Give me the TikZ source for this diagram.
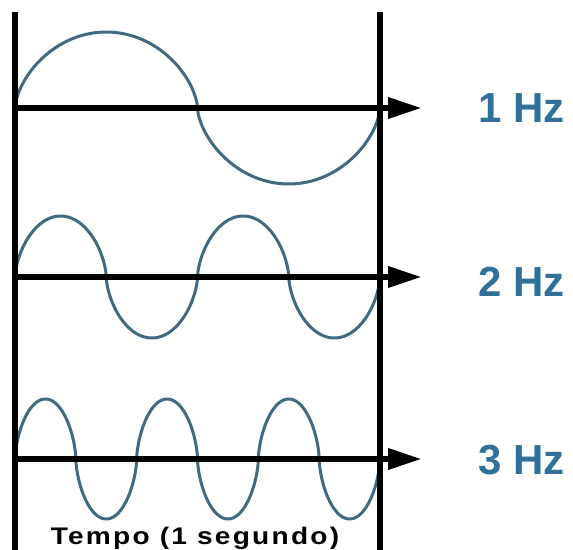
\documentclass[tikz,border=0pt]{standalone}
\usepackage{fontspec}
\usepackage{graphicx}
\setmainfont{Liberation Sans}
\newfontfamily\tempofont[LetterSpace=8]{Liberation Sans}
\usetikzlibrary{arrows.meta}
\definecolor{wavecol}{HTML}{416A80}
\definecolor{lblcol}{HTML}{31709A}
\begin{document}
\begin{tikzpicture}[x=1pt,y=-1pt,
  wavestyle/.style={draw=wavecol,line width=3pt,line cap=round},
  axisline/.style={line width=6.5pt,-{Triangle[length=34pt,width=20pt]}},
  vline/.style={line width=6pt},
  hzlabel/.style={text=lblcol,font=\fontsize{42}{42}\selectfont\bfseries,anchor=west,inner sep=0pt},
  timelabel/.style={font=\tempofont\fontsize{24}{24}\selectfont\bfseries,anchor=base,inner sep=0pt}]
\useasboundingbox (0,0) rectangle (573,549);
\fill[white] (0,0) rectangle (573,549);
% waves
\foreach \yy/\aa/\nn in {108/76/2,277/61/4,459/60/6}{
  \pgfmathsetmacro\hh{365/\nn}
  \pgfmathtruncatemacro\last{\nn-1}
  \foreach \k in {0,...,\last}{
    \pgfmathsetmacro\s{2*mod(\k,2)-1}
    \pgfmathsetmacro\cx{15+\hh*(\k+0.5)}
    \draw[wavestyle] plot[domain=180:0,samples=80,smooth] ({\cx+\hh/2*cos(\x)},{\yy+\s*\aa*(abs(sin(\x)))^1.25});
  }
}
% coordinates
\coordinate (a1s) at (15,108); \coordinate (a1e) at (422,108);
\coordinate (a2s) at (15,277); \coordinate (a2e) at (422,277);
\coordinate (a3s) at (15,459); \coordinate (a3e) at (422,459);
\coordinate (vlt) at (15,12); \coordinate (vlb) at (15,552);
\coordinate (vrt) at (380,12); \coordinate (vrb) at (380,552);
% axes
\draw[axisline] (a1s) -- (a1e);
\draw[axisline] (a2s) -- (a2e);
\draw[axisline] (a3s) -- (a3e);
\draw[vline] (vlt) -- (vlb);
\draw[vline] (vrt) -- (vrb);
% labels
\node[hzlabel] (l1) at (478,108) {1 Hz};
\node[hzlabel] (l2) at (478,282) {2 Hz};
\node[hzlabel] (l3) at (478,460) {3 Hz};
\node[timelabel] (tl) at (195,544) {\scalebox{1.17}[1]{Tempo (1 segundo)}};
\end{tikzpicture}
\end{document}
